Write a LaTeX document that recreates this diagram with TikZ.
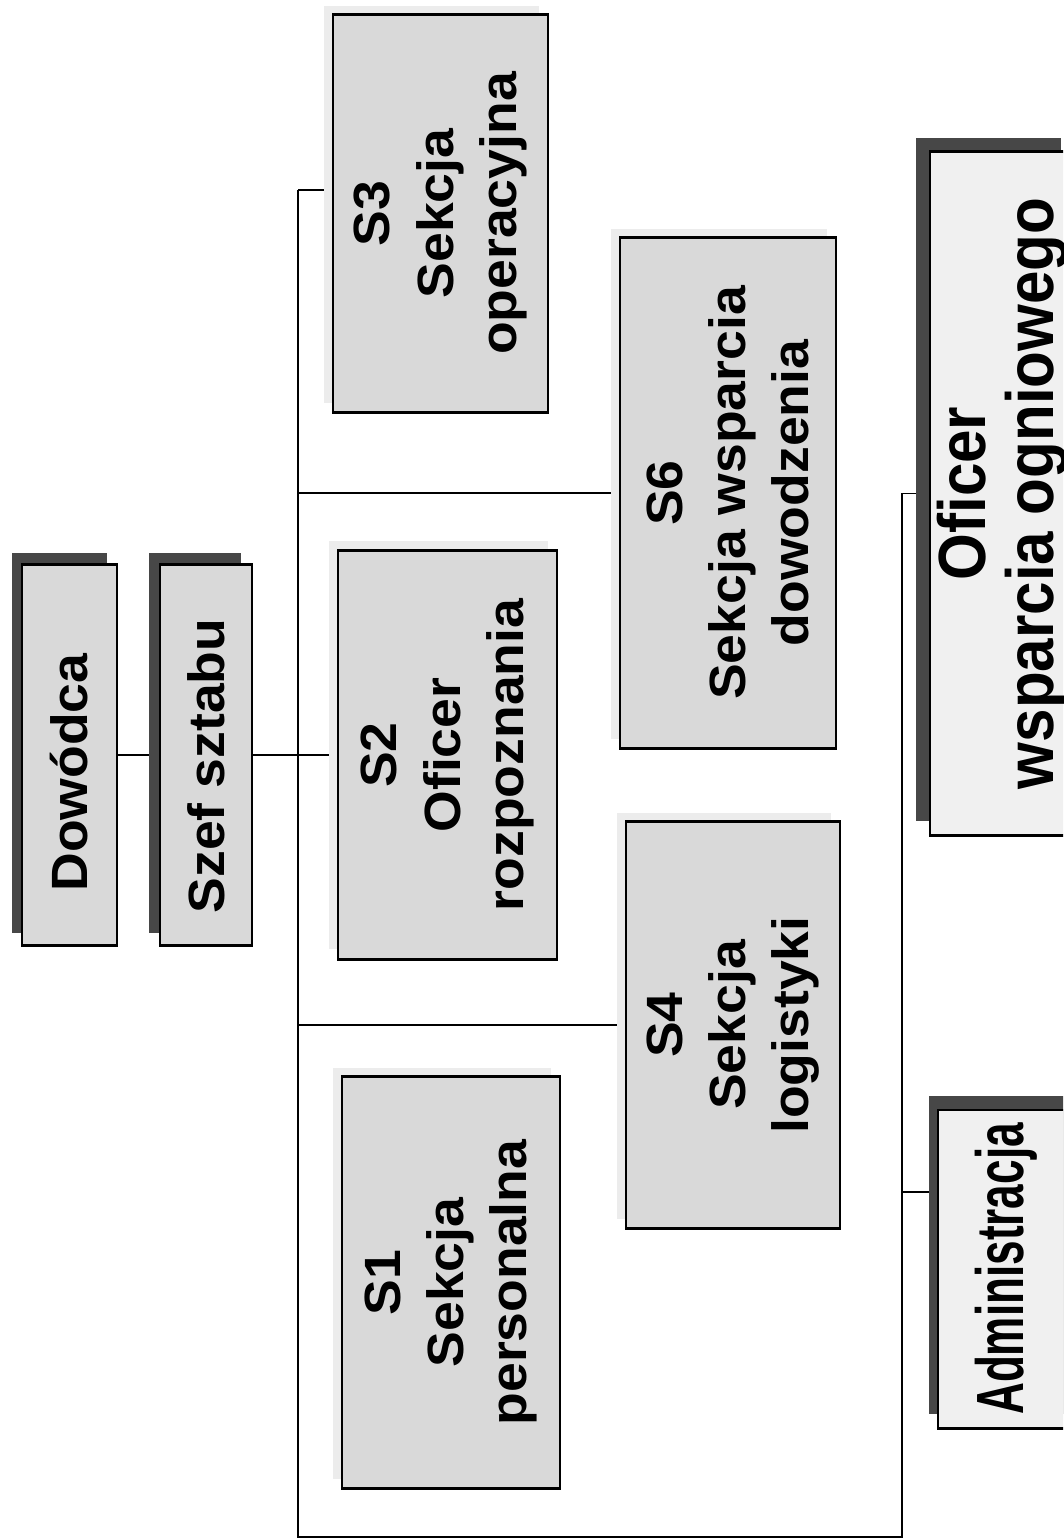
\documentclass[tikz,border=0pt]{standalone}
\usepackage{fontspec}
\setmainfont{Liberation Sans}[FakeStretch=1.05]
\newfontfamily\postfamily{Liberation Sans}[FakeStretch=0.9]
\newfontfamily\admfamily{Liberation Sans}[FakeStretch=0.66]
\newcommand{\boxfont}{\fontsize{14.5}{18}\selectfont\bfseries}
\newcommand{\postfont}{\postfamily\fontsize{19}{19.5}\selectfont\bfseries}
\newcommand{\admfont}{\admfamily\fontsize{19}{19.5}\selectfont\bfseries}
\tikzstyle{unit} = [draw, thick, fill=gray!30, rotate=90, align=center, font=\boxfont, inner sep=0pt]
\tikzstyle{post} = [unit, fill=gray!12, font=\postfont]
\tikzstyle{darkshadow} = [fill=black!72]
\tikzstyle{lightshadow} = [fill=gray!15]
\tikzstyle{link} = [draw, thin]
\pgfdeclarelayer{background}
\pgfsetlayers{background,main}

\begin{document}
\begin{tikzpicture}[x=0.01cm, y=-0.01cm]
\useasboundingbox (0,0) rectangle (1063,1540);
\clip (0,0) rectangle (1063,1540);

% shadows
\fill[darkshadow] (12,553) rectangle (107,933);
\fill[darkshadow] (149,553) rectangle (241,933);
\fill[darkshadow] (916,138) rectangle (1061,821);
\fill[darkshadow] (929,1096) rectangle (1066,1414);
\fill[lightshadow] (324,6) rectangle (539,403);
\fill[lightshadow] (329,541) rectangle (548,949);
\fill[lightshadow] (333,1068) rectangle (551,1479);
\fill[lightshadow] (611,229) rectangle (827,739);
\fill[lightshadow] (617,813) rectangle (831,1219);

% command
\node[unit, minimum width=3.8cm, minimum height=0.95cm] (dow) at (69.5,755) {Dowódca\hspace*{0.35cm}};
\node[unit, minimum width=3.8cm, minimum height=0.92cm] (szef) at (206,755) {Szef sztabu\hspace*{0.22cm}};

% sections
\node[unit, minimum width=3.97cm, minimum height=2.15cm] (s3) at (440.5,213.5) {S3\\Sekcja\\operacyjna};
\node[unit, minimum width=4.08cm, minimum height=2.19cm] (s2) at (447.5,755) {S2\\Oficer\\rozpoznania};
\node[unit, minimum width=4.11cm, minimum height=2.18cm] (s1) at (451,1282.5) {S1\\Sekcja\\personalna};
\node[unit, minimum width=5.10cm, minimum height=2.16cm] (s6) at (728,493) {S6\\Sekcja wsparcia\\dowodzenia};
\node[unit, minimum width=4.06cm, minimum height=2.14cm] (s4) at (733,1025) {S4\\Sekcja\\logistyki};

% lower posts
\node[post, minimum width=6.83cm, minimum height=1.45cm] (ofw) at (1002.5,493.5) {Oficer\\wsparcia ogniowego};
\node[post, font=\admfont, minimum width=3.18cm, minimum height=1.37cm] (adm) at (1006.5,1269) {Administracja};

\coordinate (t3) at (298,190);
\coordinate (tb) at (298,1537);
\coordinate (lb) at (902,1537);
\coordinate (ta) at (902,1192);

\begin{pgfonlayer}{background}
\path[link] (dow.south) -- (szef.north);
\path[link] (szef.south) -- (s2.north);
\path[link] (t3) -- (t3 -| s3.north);
\path[link] (s6.north -| t3) -- (s6.north);
\path[link] (s4.north -| t3) -- (s4.north);
\path[link] (t3) -- (tb) -- (lb) -- (ofw.north -| lb) -- (ofw.north);
\path[link] (ta) -- (ta -| adm.north);
\end{pgfonlayer}
\end{tikzpicture}
\end{document}
